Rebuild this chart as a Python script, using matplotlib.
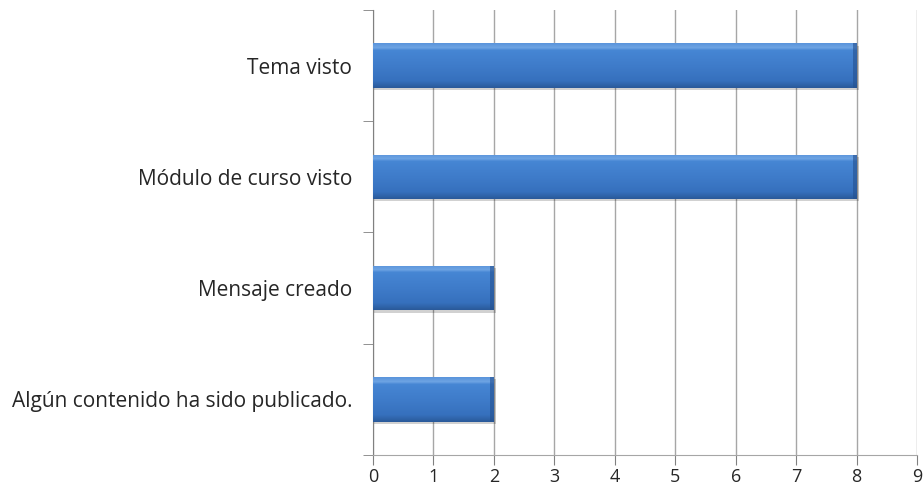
import matplotlib.pyplot as plt
import numpy as np
from matplotlib.colors import LinearSegmentedColormap

# Datos del gráfico
categorias = ["Algún contenido ha sido publicado.", "Mensaje creado",
              "Módulo de curso visto", "Tema visto"]
valores = [2, 2, 8, 8]
ticks_x = list(range(0, 10))

plt.rcParams['font.family'] = ['Open Sans', 'DejaVu Sans']

fig = plt.figure(figsize=(9.23, 4.88), dpi=100)
ax = fig.add_axes([0.4041, 0.0676, 0.5894, 0.912])

pos = np.arange(len(categorias))
barras = ax.barh(pos, valores, height=0.4, color='#3c78c8', zorder=3)

# Degradado vertical estilo Excel
cmap = LinearSegmentedColormap.from_list(
    'bisel', [(0.0, '#2a5a9a'), (0.15, '#3670bd'), (0.5, '#3f7cca'),
              (0.85, '#4686d4'), (0.9, '#6ea4e3'), (1.0, '#5b95dc')])
grad = np.linspace(0, 1, 64).reshape(-1, 1)
for b in barras:
    x0, y0 = b.get_x(), b.get_y()
    w, h = b.get_width(), b.get_height()
    # sombra
    ax.barh(y0 + h / 2 - 0.02, w + 0.04, height=h, left=x0,
            color='#000000', alpha=0.18, zorder=2)
    im = ax.imshow(grad, extent=[x0, x0 + w, y0, y0 + h], origin='lower',
                   cmap=cmap, aspect='auto', zorder=4)
    im.set_clip_path(b)
    # borde oscuro a la derecha
    ax.barh(y0 + h / 2, 0.06, height=h, left=x0 + w - 0.06,
            color='#24508f', alpha=0.6, zorder=5)

ax.set_xlim(0, 9)
ax.set_ylim(-0.5, len(categorias) - 0.5)
ax.set_xticks(ticks_x)
ax.set_yticks(pos)
ax.set_yticklabels(categorias, fontsize=15, color='#262626')
ax.set_yticks(np.arange(-0.5, len(categorias)), minor=True)
ax.tick_params(axis='y', which='major', length=0, pad=15)
ax.tick_params(axis='y', which='minor', length=7, color='#808080')
ax.tick_params(axis='x', length=7, color='#808080', labelsize=13,
               labelcolor='#262626', pad=2)

ax.grid(axis='x', color='#a6a6a6', linewidth=1, zorder=0)
ax.set_axisbelow(True)
for lado in ['top', 'right']:
    ax.spines[lado].set_visible(False)
ax.spines['left'].set_color('#808080')
ax.spines['bottom'].set_color('#a6a6a6')

fig.savefig('out.png', dpi=100)
